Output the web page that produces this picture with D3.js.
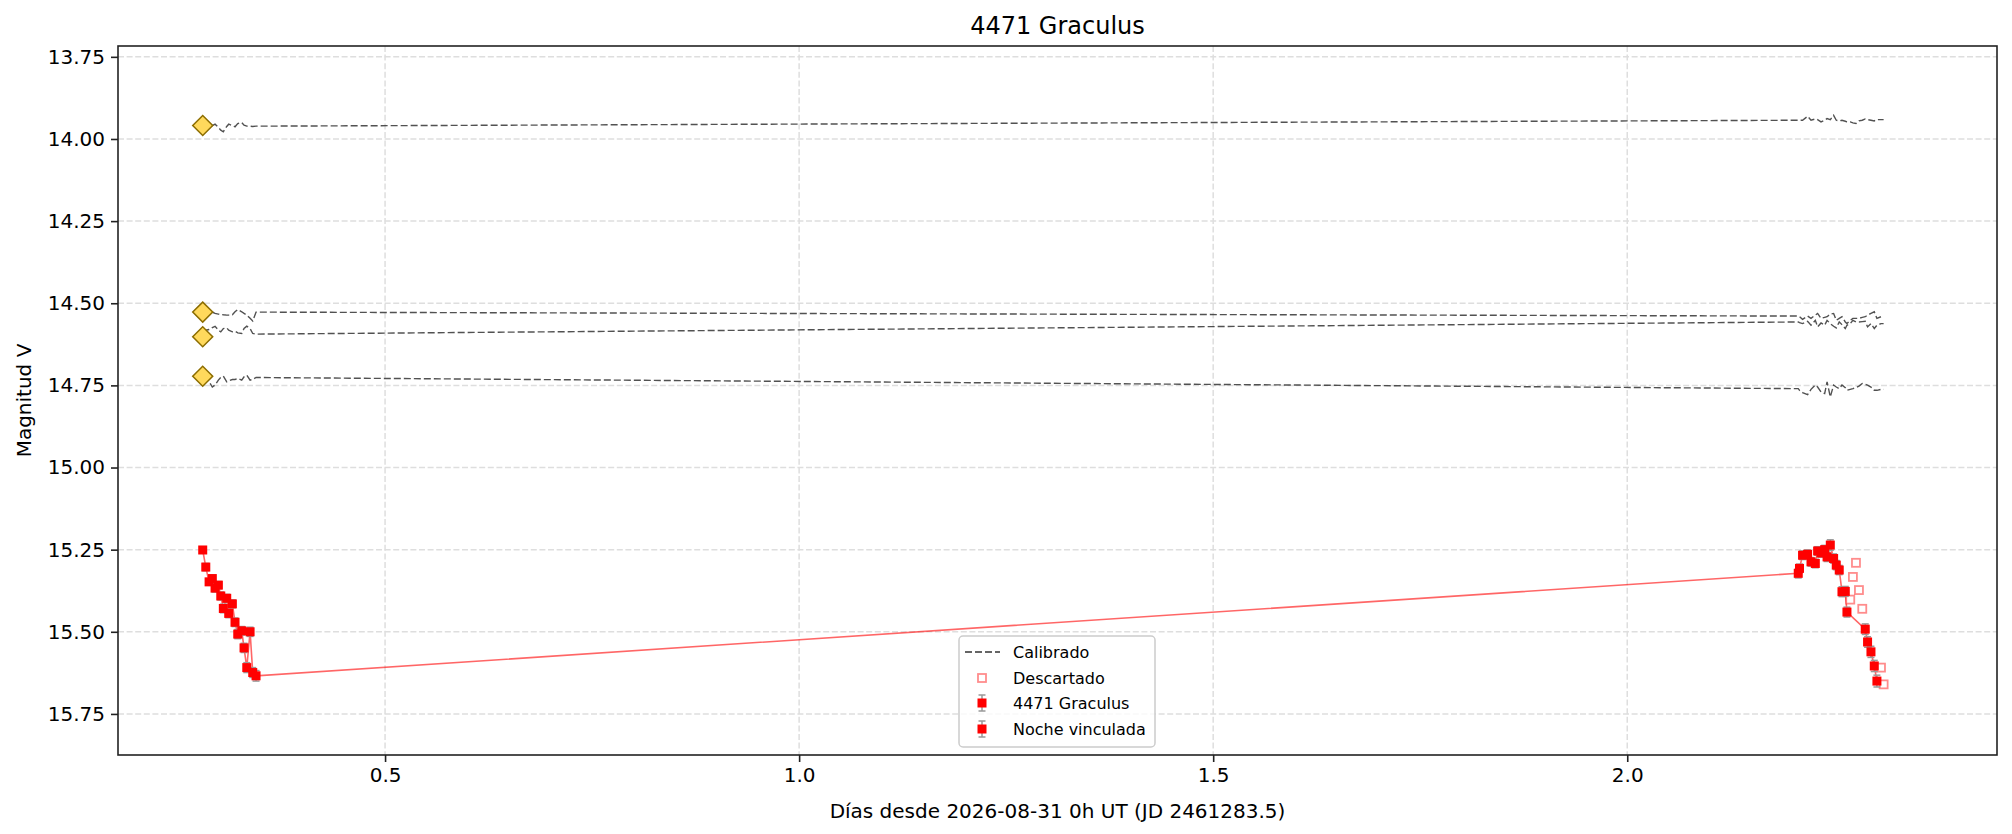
<!DOCTYPE html>
<html>
<head>
<meta charset="utf-8">
<script src="https://cdn.jsdelivr.net/npm/d3@7"></script>
<style>
  body { margin: 0; background: #fff; }
  text { font-family: "DejaVu Sans", sans-serif; }
</style>
</head>
<body>
<svg id="chart"></svg>
<script>
// linked night (first night), target magnitudes
const leftTimes = [0.2798, 0.2835, 0.2875, 0.2914, 0.2947, 0.2987, 0.3016, 0.3047, 0.3088, 0.3112,
  0.3156, 0.3188, 0.3221, 0.3269, 0.3297, 0.3330, 0.3370, 0.3402, 0.3442]
const leftMags = [15.251, 15.303, 15.348, 15.338, 15.367, 15.358, 15.391, 15.429, 15.398, 15.444,
  15.415, 15.471, 15.507, 15.497, 15.549, 15.609, 15.500, 15.624, 15.634]
const leftErrs = [0.010, 0.011, 0.010, 0.011, 0.012, 0.011, 0.012, 0.013, 0.012, 0.013,
  0.012, 0.013, 0.014, 0.013, 0.014, 0.015, 0.014, 0.015, 0.016]

// main night, kept points
const rightTimes = [2.2065, 2.2080, 2.2117, 2.2178, 2.2219, 2.2271, 2.2299, 2.2340, 2.2384, 2.2413,
  2.2452, 2.2492, 2.2524, 2.2560, 2.2593, 2.2633, 2.2653, 2.2874, 2.2902, 2.2943, 2.2983, 2.3015]
const rightMags = [15.322, 15.307, 15.267, 15.264, 15.287, 15.292, 15.254, 15.260, 15.250, 15.272,
  15.236, 15.277, 15.297, 15.312, 15.378, 15.377, 15.440, 15.492, 15.531, 15.561, 15.604, 15.650]
const rightErrs = [0.014, 0.013, 0.013, 0.013, 0.013, 0.013, 0.013, 0.013, 0.013, 0.014,
  0.016, 0.014, 0.014, 0.014, 0.015, 0.015, 0.015, 0.016, 0.016, 0.017, 0.017, 0.018]

// discarded points
const discardTimes = [2.2693, 2.2725, 2.2762, 2.2798, 2.2838, 2.3064, 2.3096]
const discardMags = [15.402, 15.333, 15.290, 15.373, 15.430, 15.609, 15.660]

// comparison stars, all frames
const compTimes = [0.2798, 0.2835, 0.2875, 0.2914, 0.2947, 0.2987, 0.3016, 0.3047, 0.3088, 0.3112,
  0.3156, 0.3188, 0.3221, 0.3269, 0.3297, 0.3330, 0.3370, 0.3402, 0.3442,
  2.2065, 2.2080, 2.2117, 2.2178, 2.2219, 2.2271, 2.2299, 2.2340, 2.2384, 2.2413,
  2.2452, 2.2492, 2.2524, 2.2560, 2.2593, 2.2633, 2.2653, 2.2693, 2.2725, 2.2762,
  2.2798, 2.2838, 2.2874, 2.2902, 2.2943, 2.2983, 2.3015, 2.3064, 2.3096]
const compStar1 = [13.958, 13.961, 13.966, 13.959, 13.955, 13.965, 13.973, 13.978, 13.962, 13.955,
  13.959, 13.963, 13.953, 13.950, 13.958, 13.961, 13.961, 13.962, 13.961,
  13.943, 13.943, 13.943, 13.931, 13.943, 13.939, 13.941, 13.948, 13.943, 13.938,
  13.941, 13.928, 13.943, 13.945, 13.943, 13.946, 13.948, 13.948, 13.951, 13.953,
  13.945, 13.943, 13.939, 13.941, 13.943, 13.945, 13.941, 13.941, 13.941]
const compStar2 = [14.527, 14.528, 14.529, 14.527, 14.531, 14.533, 14.534, 14.535, 14.536, 14.536,
  14.535, 14.526, 14.519, 14.526, 14.531, 14.536, 14.546, 14.554, 14.527,
  14.539, 14.541, 14.549, 14.539, 14.546, 14.536, 14.531, 14.546, 14.543, 14.541,
  14.533, 14.531, 14.552, 14.546, 14.541, 14.557, 14.562, 14.552, 14.546, 14.546,
  14.546, 14.543, 14.541, 14.536, 14.531, 14.526, 14.546, 14.541, 14.541]
const compStar3 = [14.587, 14.582, 14.580, 14.574, 14.570, 14.582, 14.587, 14.577, 14.575, 14.582,
  14.587, 14.585, 14.590, 14.592, 14.577, 14.570, 14.577, 14.592, 14.594,
  14.557, 14.559, 14.562, 14.555, 14.567, 14.552, 14.572, 14.560, 14.567, 14.552,
  14.562, 14.570, 14.575, 14.557, 14.565, 14.577, 14.567, 14.562, 14.552, 14.557,
  14.557, 14.556, 14.555, 14.572, 14.562, 14.577, 14.567, 14.562, 14.562]
const compStar4 = [14.724, 14.732, 14.739, 14.755, 14.749, 14.734, 14.726, 14.722, 14.739, 14.736,
  14.732, 14.732, 14.729, 14.734, 14.724, 14.719, 14.734, 14.732, 14.726,
  14.760, 14.765, 14.772, 14.778, 14.762, 14.749, 14.755, 14.770, 14.775, 14.739,
  14.785, 14.749, 14.755, 14.760, 14.749, 14.757, 14.765, 14.762, 14.760, 14.757,
  14.752, 14.744, 14.747, 14.749, 14.755, 14.765, 14.765, 14.762, 14.762]
const compRefMags = [13.959, 14.527, 14.602, 14.722]

const xTicks = [0.5, 1.0, 1.5, 2.0]
const yTicks = [13.75, 14.00, 14.25, 14.50, 14.75, 15.00, 15.25, 15.50, 15.75]
const legendLabels = ["Calibrado", "Descartado", "4471 Graculus", "Noche vinculada"]

const size = { width: 2012, height: 834 }
const margin = { left: 118, right: 15, top: 46, bottom: 79 }
const innerW = size.width - margin.left - margin.right
const innerH = size.height - margin.top - margin.bottom

const svg = d3.select("#chart").attr("width", size.width).attr("height", size.height)
svg.append("rect").attr("width", size.width).attr("height", size.height).attr("fill", "#fff")

const x = d3.scaleLinear().domain([0.1775, 2.4465]).range([margin.left, margin.left + innerW])
const y = d3.scaleLinear().domain([13.717, 15.875]).range([margin.top, margin.top + innerH])

const clipId = "plotclip"
svg.append("clipPath").attr("id", clipId).append("rect")
  .attr("x", margin.left).attr("y", margin.top).attr("width", innerW).attr("height", innerH)

// grid
const grid = svg.append("g").attr("stroke", "#dedede").attr("stroke-width", 1.5).attr("stroke-dasharray", "6,2.6")
grid.selectAll(".gx").data(xTicks).enter().append("line")
  .attr("x1", d => x(d)).attr("x2", d => x(d)).attr("y1", margin.top).attr("y2", margin.top + innerH)
grid.selectAll(".gy").data(yTicks).enter().append("line")
  .attr("y1", d => y(d)).attr("y2", d => y(d)).attr("x1", margin.left).attr("x2", margin.left + innerW)

const plot = svg.append("g").attr("clip-path", `url(#${clipId})`)

// comparison stars
const compSeries = [compStar1, compStar2, compStar3, compStar4]
const compLine = d3.line().x(d => x(d[0])).y(d => y(d[1]))
compSeries.forEach(mags => {
  plot.append("path")
    .datum(compTimes.map((t, i) => [t, mags[i]]))
    .attr("d", compLine)
    .attr("fill", "none")
    .attr("stroke", "#333")
    .attr("stroke-opacity", 0.85)
    .attr("stroke-width", 1.4)
    .attr("stroke-dasharray", "7,3")
})

const diamond = d3.symbol().type(d3.symbolDiamond2 || d3.symbolDiamond).size(200)
plot.selectAll(".ref").data(compRefMags).enter().append("path")
  .attr("d", d3.symbol().type(d3.symbolSquare).size(200))
  .attr("transform", d => `translate(${x(compTimes[0])},${y(d)}) rotate(45)`)
  .attr("fill", "#ffd95c")
  .attr("stroke", "#8c6d00")
  .attr("stroke-width", 1.5)

// target line through kept points
const kept = leftTimes.map((t, i) => [t, leftMags[i], leftErrs[i]])
  .concat(rightTimes.map((t, i) => [t, rightMags[i], rightErrs[i]]))
plot.append("path")
  .datum(kept)
  .attr("d", compLine)
  .attr("fill", "none")
  .attr("stroke", "#ff0000")
  .attr("stroke-opacity", 0.6)
  .attr("stroke-width", 1.6)

// discarded
const sq = 9
plot.selectAll(".disc").data(discardTimes.map((t, i) => [t, discardMags[i]])).enter().append("rect")
  .attr("x", d => x(d[0]) - sq / 2 + 0.5).attr("y", d => y(d[1]) - sq / 2 + 0.5)
  .attr("width", sq - 1).attr("height", sq - 1)
  .attr("fill", "#fff")
  .attr("stroke", "#ff0000").attr("stroke-opacity", 0.45)
  .attr("stroke-width", 1.8)

// error bars
const eb = plot.append("g").attr("stroke", "#999").attr("stroke-width", 1.5)
eb.selectAll(".e").data(kept).enter().append("line")
  .attr("x1", d => x(d[0])).attr("x2", d => x(d[0]))
  .attr("y1", d => y(d[1] - d[2])).attr("y2", d => y(d[1] + d[2]))
eb.selectAll(".ct").data(kept).enter().append("line")
  .attr("x1", d => x(d[0]) - 3.5).attr("x2", d => x(d[0]) + 3.5)
  .attr("y1", d => y(d[1] - d[2])).attr("y2", d => y(d[1] - d[2]))
eb.selectAll(".cb").data(kept).enter().append("line")
  .attr("x1", d => x(d[0]) - 3.5).attr("x2", d => x(d[0]) + 3.5)
  .attr("y1", d => y(d[1] + d[2])).attr("y2", d => y(d[1] + d[2]))

plot.selectAll(".pt").data(kept).enter().append("rect")
  .attr("x", d => x(d[0]) - sq / 2).attr("y", d => y(d[1]) - sq / 2)
  .attr("width", sq).attr("height", sq)
  .attr("fill", "#ff0000")

// axes
const xAxis = d3.axisBottom(x).tickValues(xTicks).tickFormat(d3.format(".1f")).tickSize(7).tickPadding(6)
const yAxis = d3.axisLeft(y).tickValues(yTicks).tickFormat(d3.format(".2f")).tickSize(7).tickPadding(6)

const gx = svg.append("g").attr("transform", `translate(0,${margin.top + innerH})`).call(xAxis)
const gy = svg.append("g").attr("transform", `translate(${margin.left},0)`).call(yAxis)
;[gx, gy].forEach(g => {
  g.select(".domain").remove()
  g.selectAll(".tick line").attr("stroke", "#222").attr("stroke-width", 1.6)
  g.selectAll(".tick text").attr("fill", "#000").style("font-size", "20px").style("font-family", "DejaVu Sans")
})

svg.append("rect")
  .attr("x", margin.left).attr("y", margin.top).attr("width", innerW).attr("height", innerH)
  .attr("fill", "none").attr("stroke", "#222").attr("stroke-width", 1.6)

// labels
svg.append("text").attr("x", margin.left + innerW / 2).attr("y", 34)
  .attr("text-anchor", "middle").style("font-size", "24px").text("4471 Graculus")
svg.append("text").attr("x", margin.left + innerW / 2).attr("y", 818)
  .attr("text-anchor", "middle").style("font-size", "20px").text("Días desde 2026-08-31 0h UT (JD 2461283.5)")
svg.append("text").attr("transform", `translate(31,${margin.top + innerH / 2}) rotate(-90)`)
  .attr("text-anchor", "middle").style("font-size", "20px").text("Magnitud V")

// legend
const lg = svg.append("g").attr("transform", "translate(959,636)")
lg.append("rect").attr("width", 196).attr("height", 111).attr("rx", 4)
  .attr("fill", "#fff").attr("fill-opacity", 0.8).attr("stroke", "#ccc").attr("stroke-width", 1.5)
const rowY = [16, 42, 67, 93]
lg.selectAll(".lt").data(legendLabels).enter().append("text")
  .attr("x", 54).attr("y", (d, i) => rowY[i]).attr("dy", "0.35em")
  .style("font-size", "16px").text(d => d)
lg.append("line").attr("x1", 6).attr("x2", 41).attr("y1", rowY[0]).attr("y2", rowY[0])
  .attr("stroke", "#333").attr("stroke-width", 1.4).attr("stroke-dasharray", "7,3")
lg.append("rect").attr("x", 23 - 4).attr("y", rowY[1] - 4).attr("width", 8).attr("height", 8)
  .attr("fill", "#fff").attr("stroke", "#ff0000").attr("stroke-opacity", 0.45).attr("stroke-width", 1.8)
;[rowY[2], rowY[3]].forEach(cy => {
  const h = lg.append("g").attr("stroke", "#999").attr("stroke-width", 1.5)
  h.append("line").attr("x1", 23).attr("x2", 23).attr("y1", cy - 8).attr("y2", cy + 8)
  h.append("line").attr("x1", 19.5).attr("x2", 26.5).attr("y1", cy - 8).attr("y2", cy - 8)
  h.append("line").attr("x1", 19.5).attr("x2", 26.5).attr("y1", cy + 8).attr("y2", cy + 8)
  lg.append("rect").attr("x", 23 - sq / 2).attr("y", cy - sq / 2).attr("width", sq).attr("height", sq)
    .attr("fill", "#ff0000")
})
</script>
</body>
</html>
